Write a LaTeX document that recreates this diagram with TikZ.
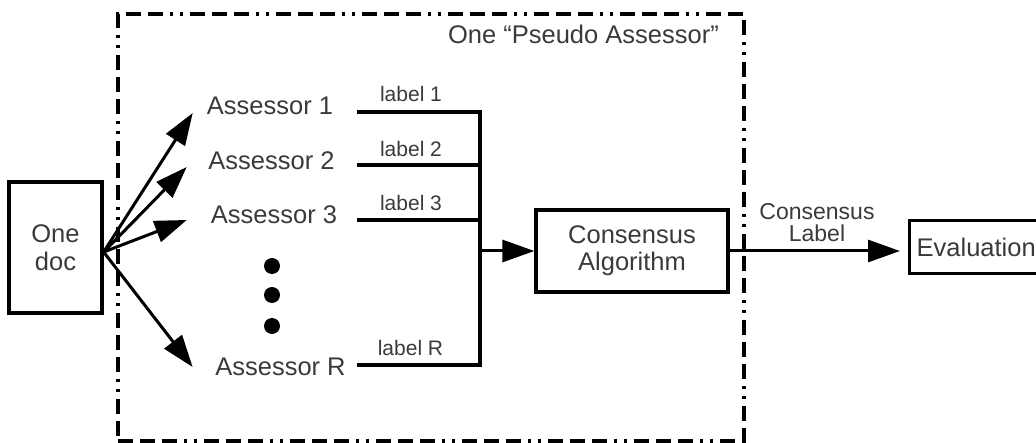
\documentclass[tikz,border=0pt]{standalone}
\usepackage{fontspec}
\setmainfont{Liberation Sans}
\usetikzlibrary{arrows.meta}
\definecolor{txt}{HTML}{3A3A3A}
\begin{document}
\begin{tikzpicture}[x=1pt,y=-1pt,
  every node/.style={text=txt, inner sep=0pt},
  big/.style={font=\fontsize{25.5}{27}\selectfont},
  small/.style={font=\fontsize{21}{24}\selectfont},
  mid/.style={font=\fontsize{23}{22}\selectfont},
  box/.style={draw=black, line width=3.3pt, align=center},
  wire/.style={draw=black, line width=3.3pt},
  arr/.style={draw=black, line width=3pt, -{Triangle[length=32pt,width=22pt]}},
  frame/.style={draw=black, line width=3.3pt,
    dash pattern=on 15pt off 7pt on 15pt off 7pt on 15pt off 7pt on 3pt off 7pt on 3pt off 7pt},
  dotnode/.style={circle, fill=black, minimum size=16pt}]
\useasboundingbox (0,0) rectangle (1036,443);
% frame
\node[frame, minimum width=626pt, minimum height=427pt] (frame) at (431,227.5) {};
\node[big, anchor=east] (title) at (719,34) {One “Pseudo Assessor”};
% doc
\node[box, font=\fontsize{25.5}{28}\selectfont, minimum width=93pt, minimum height=131pt] (doc) at (55.5,247.5) {One\\doc};
% assessors
\node[big] (a1) at (270,106) {Assessor 1};
\node[big] (a2) at (271.5,161) {Assessor 2};
\node[big] (a3) at (274,215) {Assessor 3};
\node[big] (aR) at (280.5,367) {Assessor R};
\node[dotnode] (d1) at (272,266) {};
\node[dotnode] (d2) at (272,295) {};
\node[dotnode] (d3) at (272,326) {};
% arrows from doc
\draw[arr] ([yshift=-4.5pt]doc.east) -- ([xshift=-14pt,yshift=-7pt]a1.west);
\draw[arr] ([yshift=-4.5pt]doc.east) -- ([xshift=-21.5pt,yshift=-6pt]a2.west);
\draw[arr] ([yshift=-4.5pt]doc.east) -- ([xshift=-24pt,yshift=-5pt]a3.west);
\draw[arr] ([yshift=-4.5pt]doc.east) -- ([xshift=-22.5pt]aR.west);
% wires
\coordinate (s1) at (357,112); \coordinate (b1) at (480,112);
\coordinate (s2) at (357,165); \coordinate (b2) at (480,165);
\coordinate (s3) at (357,220); \coordinate (b3) at (480,220);
\coordinate (sR) at (357,365); \coordinate (bR) at (480,365);
\coordinate (bm) at (480,251);
\draw[wire] (s1) -- (b1) -- (bR) -- (sR);
\draw[wire] (s2) -- (b2);
\draw[wire] (s3) -- (b3);
\node[small] (l1) at (411,94) {label 1};
\node[small] (l2) at (411,149) {label 2};
\node[small] (l3) at (411,203) {label 3};
\node[small] (lR) at (410.5,348) {label R};
% consensus
\node[box, big, minimum width=192pt, minimum height=82pt] (cons) at (632,251) {Consensus\\Algorithm};
\draw[arr] (bm) -- (cons.west);
% evaluation
\node[box, big, anchor=west, minimum height=53pt, inner xsep=7pt, text width=140pt, align=left] (eval) at (908,247) {Evaluation};
\draw[arr] (cons.east) -- ([xshift=-8pt]cons.east -| eval.west);
\node[mid, align=center] (clabel) at (817,223) {Consensus\\Label};
\end{tikzpicture}
\end{document}
